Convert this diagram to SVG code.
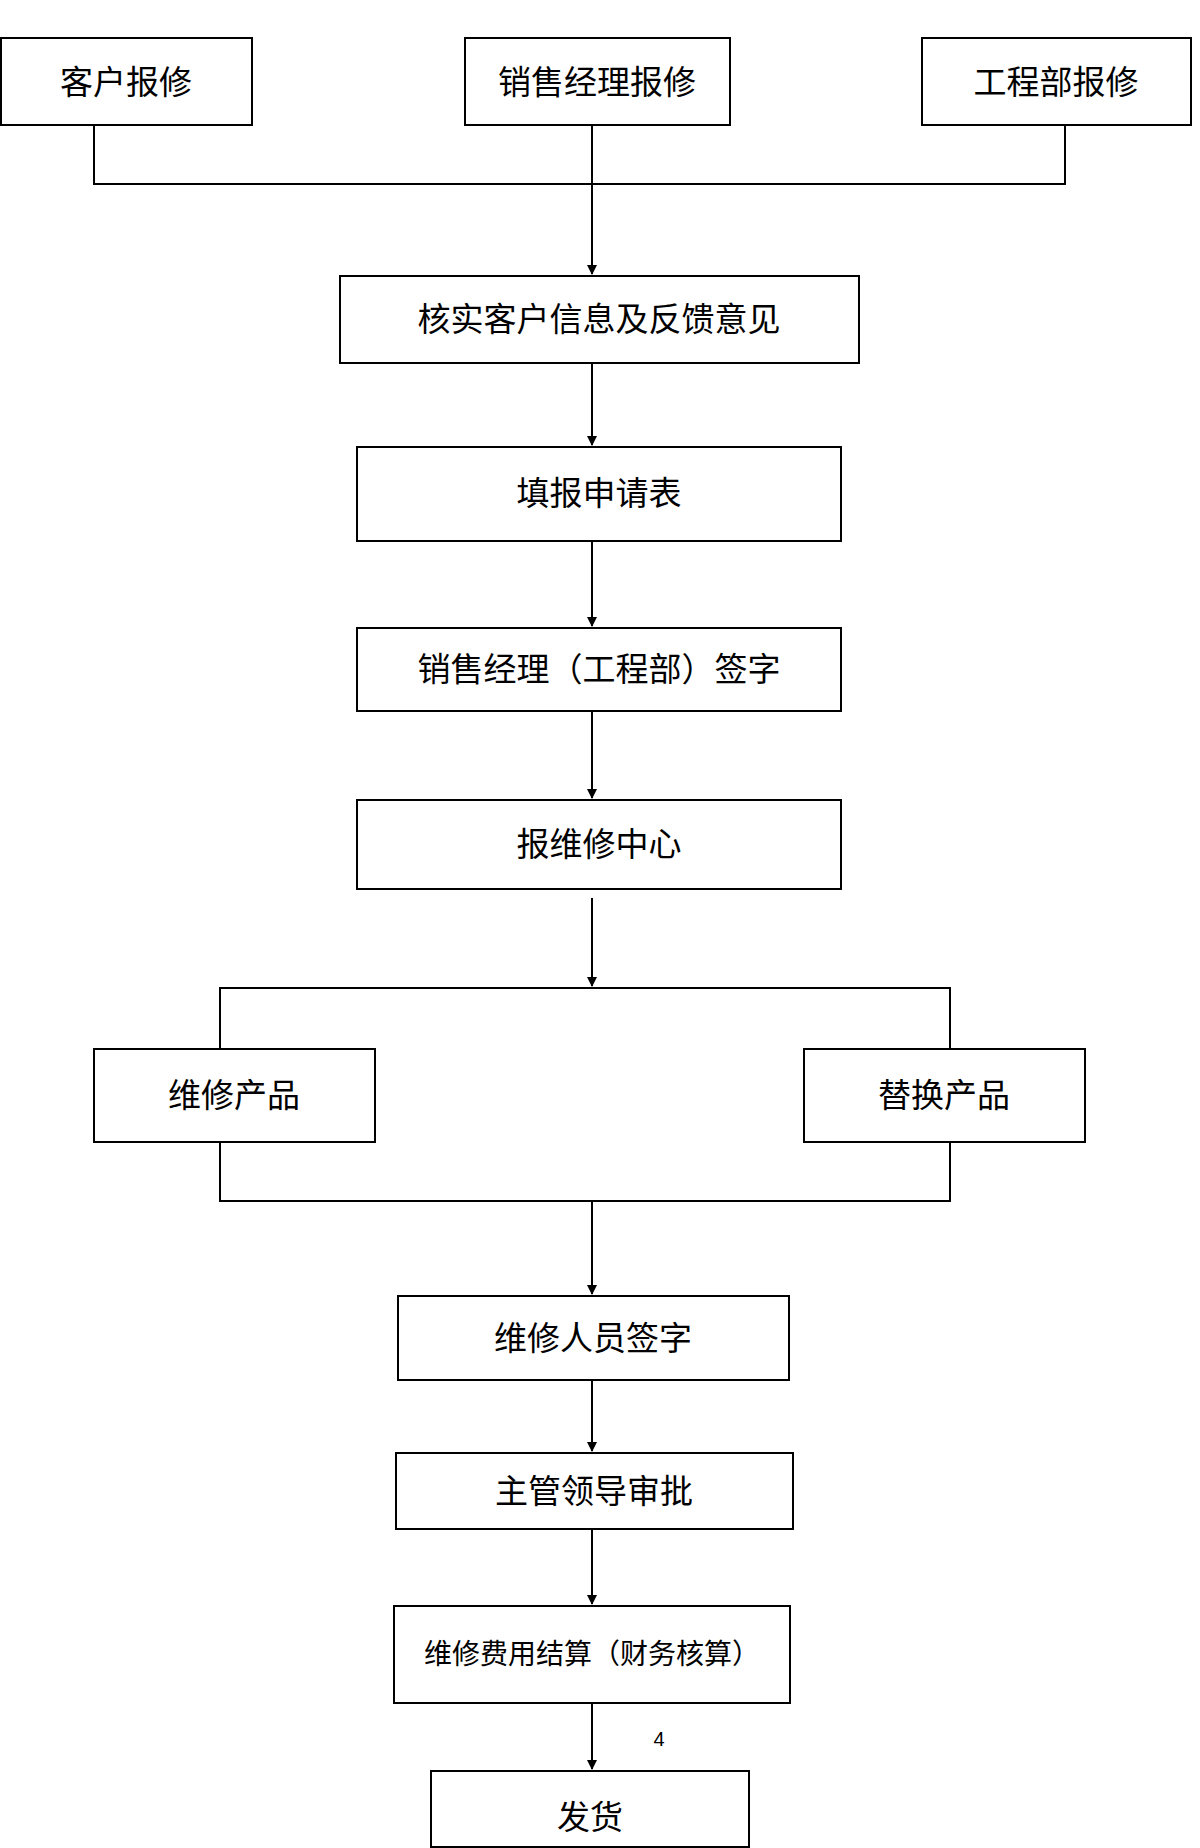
<svg xmlns="http://www.w3.org/2000/svg" width="1200" height="1848" viewBox="0 0 1200 1848">
<defs>
<marker id="ah" markerWidth="10" markerHeight="10" refX="9" refY="5" orient="auto" markerUnits="userSpaceOnUse" viewBox="0 0 10 10"><path d="M0,0 L10,5 L0,10 z" fill="#000"/></marker>
<style>
rect{fill:#fff;stroke:#000;stroke-width:2}
text{font-family:"Noto Sans CJK SC","Liberation Sans",sans-serif;font-size:33px;text-anchor:middle;fill:#000}
.c line,.c polyline{stroke:#000;stroke-width:2;fill:none}
</style>
</defs>
<rect x="0" y="0" width="1200" height="1848" style="fill:#fff;stroke:none"/>
<g class="c" id="connectors">
<polyline points="94,125 94,184 1065,184 1065,125"/>
<line x1="592" y1="125" x2="592" y2="274" marker-end="url(#ah)"/>
<line x1="592" y1="363" x2="592" y2="445" marker-end="url(#ah)"/>
<line x1="592" y1="541" x2="592" y2="626" marker-end="url(#ah)"/>
<line x1="592" y1="711" x2="592" y2="798" marker-end="url(#ah)"/>
<line x1="592" y1="898" x2="592" y2="986" marker-end="url(#ah)"/>
<polyline points="220,1049 220,988 950,988 950,1049"/>
<polyline points="220,1142 220,1201 950,1201 950,1142"/>
<line x1="592" y1="1201" x2="592" y2="1294" marker-end="url(#ah)"/>
<line x1="592" y1="1380" x2="592" y2="1451" marker-end="url(#ah)"/>
<line x1="592" y1="1529" x2="592" y2="1604" marker-end="url(#ah)"/>
<line x1="592" y1="1703" x2="592" y2="1769" marker-end="url(#ah)"/>
</g>
<g id="n1"><rect x="1" y="38" width="251" height="87"/><text x="126" y="94">客户报修</text></g>
<g id="n2"><rect x="465" y="38" width="265" height="87"/><text x="597" y="94">销售经理报修</text></g>
<g id="n3"><rect x="922" y="38" width="269" height="87"/><text x="1056" y="94">工程部报修</text></g>
<g id="n4"><rect x="340" y="276" width="519" height="87"/><text x="599" y="331">核实客户信息及反馈意见</text></g>
<g id="n5"><rect x="357" y="447" width="484" height="94"/><text x="599" y="505">填报申请表</text></g>
<g id="n6"><rect x="357" y="628" width="484" height="83"/><text x="599" y="681">销售经理（工程部）签字</text></g>
<g id="n7"><rect x="357" y="800" width="484" height="89"/><text x="599" y="856">报维修中心</text></g>
<g id="n8"><rect x="94" y="1049" width="281" height="93"/><text x="234" y="1107">维修产品</text></g>
<g id="n9"><rect x="804" y="1049" width="281" height="93"/><text x="944" y="1107">替换产品</text></g>
<g id="n10"><rect x="398" y="1296" width="391" height="84"/><text x="593" y="1350">维修人员签字</text></g>
<g id="n11"><rect x="396" y="1453" width="397" height="76"/><text x="594" y="1503">主管领导审批</text></g>
<g id="n12"><rect x="394" y="1606" width="396" height="97"/><text x="592" y="1664" style="font-size:28px">维修费用结算（财务核算）</text></g>
<text x="659" y="1746" style="font-size:20px;font-family:'Liberation Sans',sans-serif">4</text>
<g id="n13"><rect x="431" y="1771" width="318" height="76"/><text x="590" y="1829">发货</text></g>
</svg>
